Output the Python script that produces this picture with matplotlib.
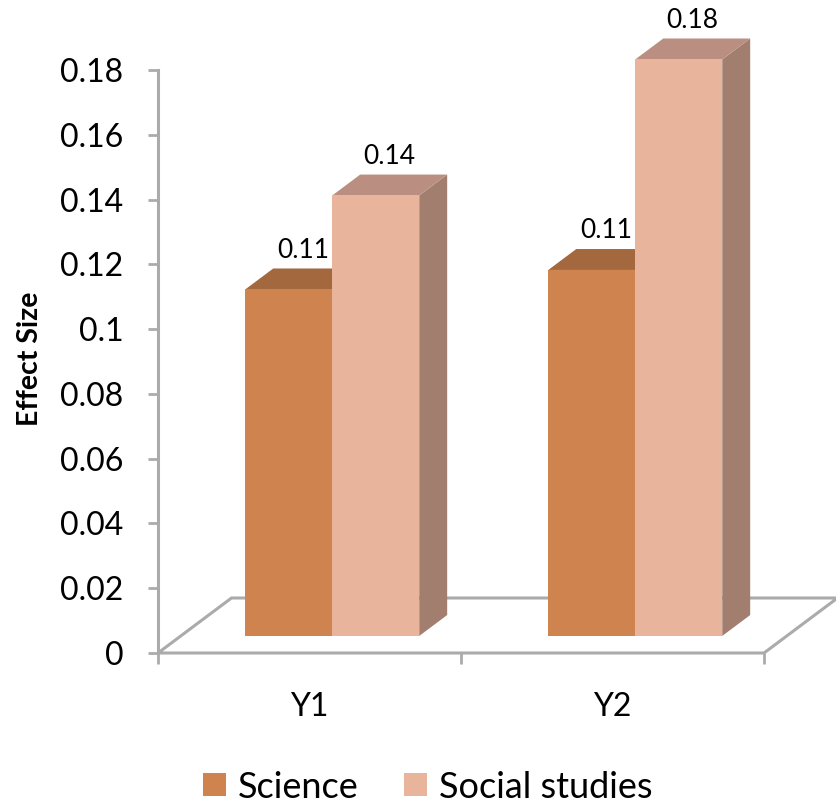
import matplotlib
matplotlib.use("Agg")
import matplotlib.pyplot as plt
from matplotlib.patches import Polygon, Patch

plt.rcParams['font.family'] = ['Lato', 'DejaVu Sans']

categories = ['Y1', 'Y2']
series_names = ['Science', 'Social studies']
science = [0.107, 0.113]
social = [0.136, 0.178]
y_ticks = [0, 0.02, 0.04, 0.06, 0.08, 0.1, 0.12, 0.14, 0.16, 0.18]
y_tick_labels = ['0', '0.02', '0.04', '0.06', '0.08', '0.1', '0.12', '0.14', '0.16', '0.18']

# face colours: front, top, side
science_faces = ['#CF8450', '#A3683E', '#8E5A35']
social_faces = ['#E8B59C', '#BA8F82', '#A27E6F']
floor_color = '#ABABAB'

fig = plt.figure(figsize=(8.37, 8.07), dpi=100)
ax = fig.add_axes([158 / 837, 154 / 807, 679 / 837, 653 / 807])
ax.set_xlim(-0.5, -0.5 + 679 / 303)
ax.set_ylim(0, 653 / 3239)

# oblique projection of the depth axis
floor_dx = 73.5 / 303
floor_dy = 55 / 3239
d_front, d_back = 0.31, 0.69
bar_w = 0.287

# floor outline
floor = Polygon([(-0.5, 0), (1.5, 0), (1.5 + floor_dx, floor_dy), (-0.5 + floor_dx, floor_dy)],
                closed=True, fill=False, edgecolor=floor_color, lw=2.2, zorder=1, clip_on=False)
ax.add_patch(floor)


def draw_bar(x0, value, faces):
    ox0, oy0 = d_front * floor_dx, d_front * floor_dy
    ox1, oy1 = d_back * floor_dx, d_back * floor_dy
    x1 = x0 + bar_w
    top = oy0 + value
    side = Polygon([(x1 + ox0, oy0), (x1 + ox1, oy1), (x1 + ox1, oy1 + value), (x1 + ox0, top)],
                   closed=True, facecolor=faces[2], edgecolor='none', zorder=2)
    lid = Polygon([(x0 + ox0, top), (x1 + ox0, top), (x1 + ox1, oy1 + value), (x0 + ox1, oy1 + value)],
                  closed=True, facecolor=faces[1], edgecolor='none', zorder=2)
    front = Polygon([(x0 + ox0, oy0), (x1 + ox0, oy0), (x1 + ox0, top), (x0 + ox0, top)],
                    closed=True, facecolor=faces[0], edgecolor='none', zorder=2)
    for p in (side, lid, front):
        ax.add_patch(p)
    lx = x0 + bar_w / 2 + (ox0 + ox1) / 2
    ax.annotate(f'{value:.2f}', (lx, oy1 + value), xytext=(0, 4), textcoords='offset points',
                ha='center', va='bottom', fontsize=19, zorder=3)


for i in range(len(categories)):
    draw_bar(i - bar_w, science[i], science_faces)
    draw_bar(i, social[i], social_faces)

# axes styling
for s in ['top', 'right', 'bottom']:
    ax.spines[s].set_visible(False)
ax.spines['left'].set_color(floor_color)
ax.spines['left'].set_linewidth(2.2)
ax.spines['left'].set_bounds(0, 0.18)

ax.set_yticks(y_ticks)
ax.set_yticklabels(y_tick_labels, fontsize=23)
ax.tick_params(axis='y', length=7, width=2, color=floor_color, pad=18)

ax.set_xticks([-0.5, 0.5, 1.5])
ax.set_xticklabels([])
ax.set_xticks(range(len(categories)), minor=True)
ax.set_xticklabels(categories, minor=True, fontsize=23)
ax.tick_params(axis='x', which='major', length=8, width=2, color=floor_color, direction='out')
ax.tick_params(axis='x', which='minor', length=0, pad=28)

fig.text(30 / 837, 1 - 359 / 807, 'Effect Size', rotation=90, ha='center', va='center',
         fontsize=20.5, fontweight='bold')

handles = [Patch(facecolor=science_faces[0]), Patch(facecolor=social_faces[0])]
fig.legend(handles, series_names, loc='center', bbox_to_anchor=(428 / 837, 1 - 787 / 807), ncol=2,
           frameon=False, fontsize=26, handlelength=0.62, handleheight=0.62,
           handletextpad=0.35, columnspacing=1.25)

fig.savefig('out.png', dpi=100)
